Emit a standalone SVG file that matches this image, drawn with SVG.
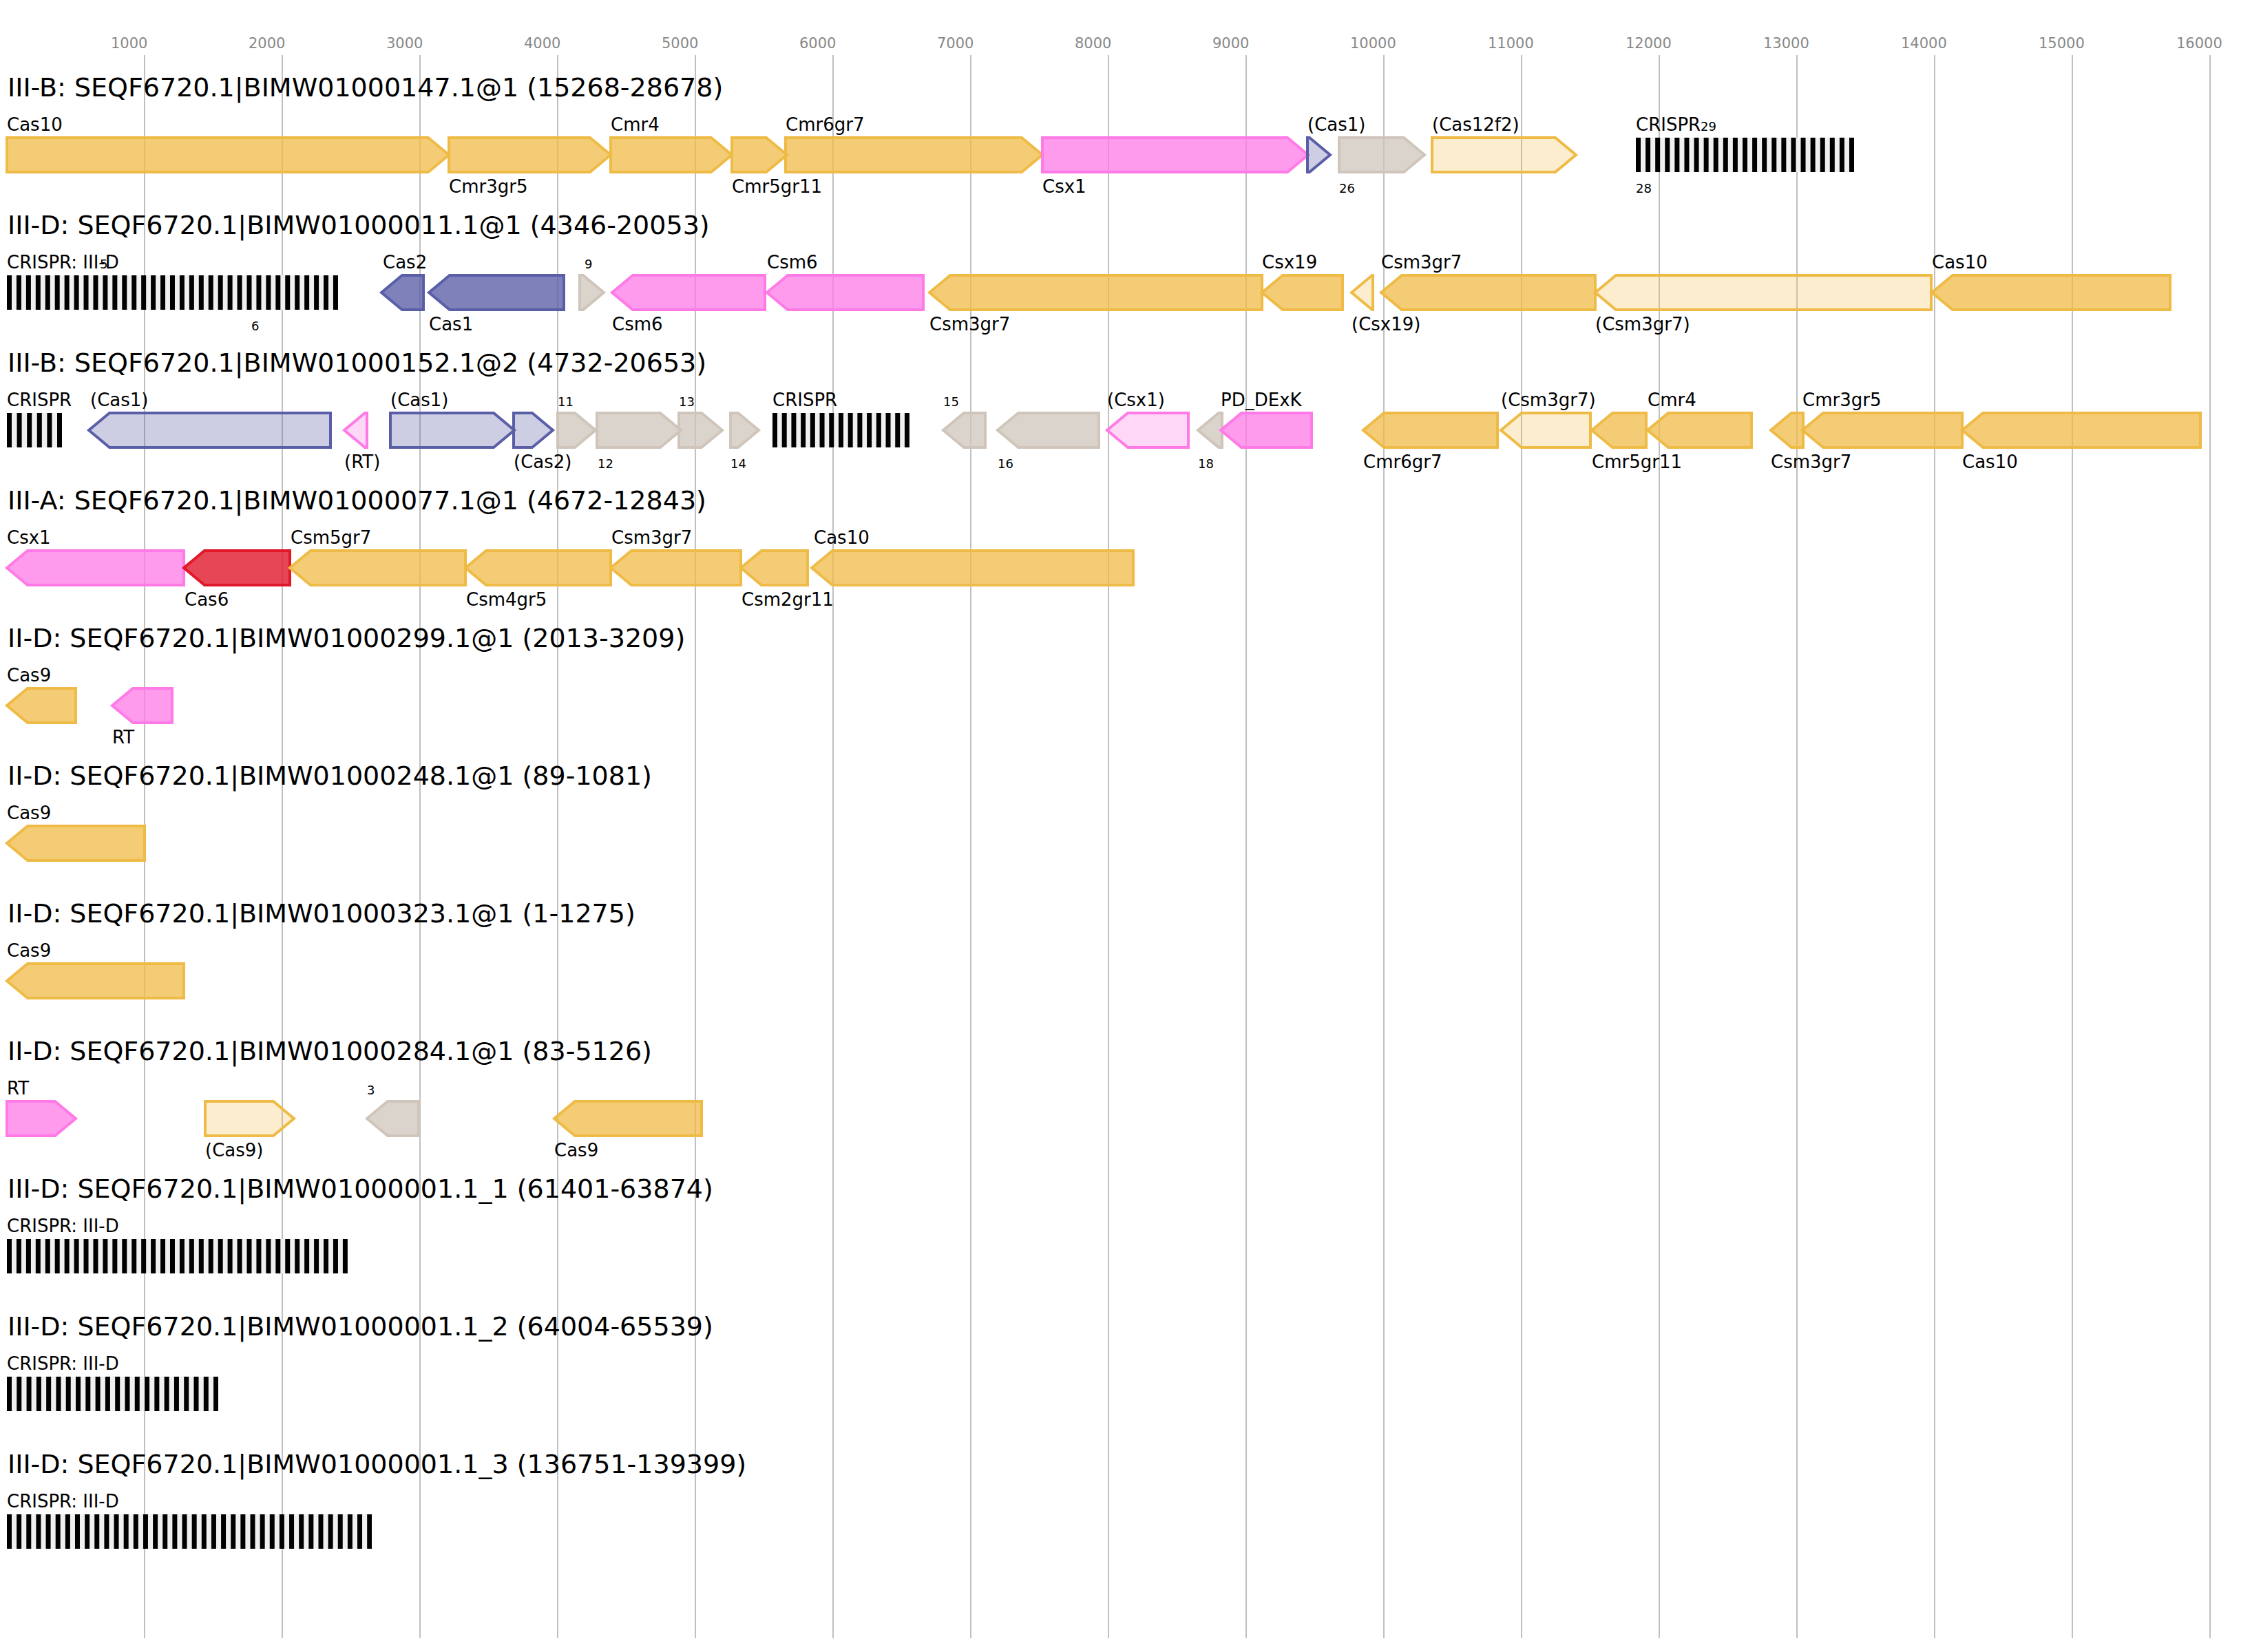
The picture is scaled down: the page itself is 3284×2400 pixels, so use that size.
<svg xmlns="http://www.w3.org/2000/svg" width="3284" height="2400" viewBox="0 0 3284 2400">
<style>
text{font-family:"DejaVu Sans","Liberation Sans",sans-serif;fill:#000}
.tick{font-size:21px;fill:#888}
.title{font-size:38px}
.lab{font-size:26px}
.num{font-size:18px}
.grid line{stroke:#c0c0c0;stroke-width:2}
polygon{stroke-width:4;stroke-linejoin:miter}
.y{fill:#EFBB47;fill-opacity:.75;stroke:#EFBB47}
.yl{fill:#EFBB47;fill-opacity:.27;stroke:#EFBB47}
.p{fill:#FF7AE6;fill-opacity:.75;stroke:#FF7AE6}
.pl{fill:#FF7AE6;fill-opacity:.3;stroke:#FF7AE6}
.b{fill:#5A5EA6;fill-opacity:.78;stroke:#5A5EA6}
.bl{fill:#5A5EA6;fill-opacity:.3;stroke:#5A5EA6}
.g{fill:#CFC5BB;fill-opacity:.75;stroke:#CFC5BB}
.r{fill:#E0182A;fill-opacity:.8;stroke:#E0182A}
.cr rect{fill:#f0f0f0}
.cr line{stroke:#000;stroke-width:50}
</style>
<g id="axis" class="grid">
<line x1="210" y1="80" x2="210" y2="2380"/><line x1="410" y1="80" x2="410" y2="2380"/><line x1="610" y1="80" x2="610" y2="2380"/><line x1="810" y1="80" x2="810" y2="2380"/><line x1="1010" y1="80" x2="1010" y2="2380"/><line x1="1210" y1="80" x2="1210" y2="2380"/><line x1="1410" y1="80" x2="1410" y2="2380"/><line x1="1610" y1="80" x2="1610" y2="2380"/><line x1="1810" y1="80" x2="1810" y2="2380"/><line x1="2010" y1="80" x2="2010" y2="2380"/><line x1="2210" y1="80" x2="2210" y2="2380"/><line x1="2410" y1="80" x2="2410" y2="2380"/><line x1="2610" y1="80" x2="2610" y2="2380"/><line x1="2810" y1="80" x2="2810" y2="2380"/><line x1="3010" y1="80" x2="3010" y2="2380"/><line x1="3210" y1="80" x2="3210" y2="2380"/>
<text class="tick" x="161" y="70">1000</text><text class="tick" x="361" y="70">2000</text><text class="tick" x="561" y="70">3000</text><text class="tick" x="761" y="70">4000</text><text class="tick" x="961" y="70">5000</text><text class="tick" x="1161" y="70">6000</text><text class="tick" x="1361" y="70">7000</text><text class="tick" x="1561" y="70">8000</text><text class="tick" x="1761" y="70">9000</text><text class="tick" x="1961" y="70">10000</text><text class="tick" x="2161" y="70">11000</text><text class="tick" x="2361" y="70">12000</text><text class="tick" x="2561" y="70">13000</text><text class="tick" x="2761" y="70">14000</text><text class="tick" x="2961" y="70">15000</text><text class="tick" x="3161" y="70">16000</text>
</g>
<g id="row1">
<text class="title" x="11" y="140">III-B: SEQF6720.1|BIMW01000147.1@1 (15268-28678)</text>
<polygon class="y" points="10,200 622,200 652,225 622,250 10,250"/><text class="lab" x="10" y="190">Cas10</text>
<polygon class="y" points="652,200 857,200 887,225 857,250 652,250"/><text class="lab" x="652" y="280">Cmr3gr5</text>
<polygon class="y" points="887,200 1033,200 1063,225 1033,250 887,250"/><text class="lab" x="887" y="190">Cmr4</text>
<polygon class="y" points="1063,200 1113,200 1143,225 1113,250 1063,250"/><text class="lab" x="1063" y="280">Cmr5gr11</text>
<polygon class="y" points="1141,200 1484,200 1514,225 1484,250 1141,250"/><text class="lab" x="1141" y="190">Cmr6gr7</text>
<polygon class="p" points="1514,200 1870,200 1900,225 1870,250 1514,250"/><text class="lab" x="1514" y="280">Csx1</text>
<polygon class="bl" points="1899,200 1902,200 1932,225 1902,250 1899,250"/><text class="lab" x="1899" y="190">(Cas1)</text>
<polygon class="g" points="1945,200 2039,200 2069,225 2039,250 1945,250"/><text class="num" x="1945" y="280">26</text>
<polygon class="yl" points="2080,200 2259,200 2289,225 2259,250 2080,250"/><text class="lab" x="2080" y="190">(Cas12f2)</text>
<g class="cr"><rect x="2376" y="200" width="317" height="50"/><line x1="2376" y1="225" x2="2693" y2="225" stroke-dasharray="7 7.09"/></g>
<text class="lab" x="2376" y="190">CRISPR</text><text class="num" x="2470" y="190">29</text><text class="num" x="2376" y="280">28</text>
</g>
<g id="row2">
<text class="title" x="11" y="340">III-D: SEQF6720.1|BIMW01000011.1@1 (4346-20053)</text>
<g class="cr"><rect x="10" y="400" width="481" height="50"/><line x1="10" y1="425" x2="491" y2="425" stroke-dasharray="7 6.94"/></g>
<text class="lab" x="10" y="390">CRISPR: III-D</text><text class="num" x="145" y="390">5</text><text class="num" x="365" y="480">6</text>
<polygon class="b" points="554,425 584,400 615,400 615,450 584,450"/><text class="lab" x="556" y="390">Cas2</text>
<polygon class="b" points="623,425 653,400 819,400 819,450 653,450"/><text class="lab" x="623" y="480">Cas1</text>
<polygon class="g" points="842,400 847,400 877,425 847,450 842,450"/><text class="num" x="849" y="390">9</text>
<polygon class="p" points="889,425 919,400 1111,400 1111,450 919,450"/><text class="lab" x="889" y="480">Csm6</text>
<polygon class="p" points="1114,425 1144,400 1341,400 1341,450 1144,450"/><text class="lab" x="1114" y="390">Csm6</text>
<polygon class="y" points="1350,425 1380,400 1833,400 1833,450 1380,450"/><text class="lab" x="1350" y="480">Csm3gr7</text>
<polygon class="y" points="1833,425 1863,400 1950,400 1950,450 1863,450"/><text class="lab" x="1833" y="390">Csx19</text>
<polygon class="yl" points="1963,425 1993,400 1994,400 1994,450 1993,450"/><text class="lab" x="1963" y="480">(Csx19)</text>
<polygon class="y" points="2006,425 2036,400 2317,400 2317,450 2036,450"/><text class="lab" x="2006" y="390">Csm3gr7</text>
<polygon class="yl" points="2317,425 2347,400 2805,400 2805,450 2347,450"/><text class="lab" x="2317" y="480">(Csm3gr7)</text>
<polygon class="y" points="2806,425 2836,400 3152,400 3152,450 2836,450"/><text class="lab" x="2806" y="390">Cas10</text>
</g>
<g id="row3">
<text class="title" x="11" y="540">III-B: SEQF6720.1|BIMW01000152.1@2 (4732-20653)</text>
<g class="cr"><rect x="10" y="600" width="80" height="50"/><line x1="10" y1="625" x2="90" y2="625" stroke-dasharray="7 7.6"/></g>
<text class="lab" x="10" y="590">CRISPR</text>
<polygon class="bl" points="129,625 159,600 480,600 480,650 159,650"/><text class="lab" x="131" y="590">(Cas1)</text>
<polygon class="pl" points="500,625 530,600 533,600 533,650 530,650"/><text class="lab" x="500" y="680">(RT)</text>
<polygon class="bl" points="567,600 717,600 747,625 717,650 567,650"/><text class="lab" x="567" y="590">(Cas1)</text>
<polygon class="bl" points="746,600 773,600 803,625 773,650 746,650"/><text class="lab" x="746" y="680">(Cas2)</text>
<polygon class="g" points="810,600 835,600 865,625 835,650 810,650"/><text class="num" x="810" y="590">11</text>
<polygon class="g" points="867,600 959,600 989,625 959,650 867,650"/><text class="num" x="868" y="680">12</text>
<polygon class="g" points="986,600 1019,600 1049,625 1019,650 986,650"/><text class="num" x="986" y="590">13</text>
<polygon class="g" points="1061,600 1072,600 1102,625 1072,650 1061,650"/><text class="num" x="1061" y="680">14</text>
<g class="cr"><rect x="1122" y="600" width="199" height="50"/><line x1="1122" y1="625" x2="1321" y2="625" stroke-dasharray="7 6.71"/></g>
<text class="lab" x="1122" y="590">CRISPR</text>
<polygon class="g" points="1370,625 1400,600 1431,600 1431,650 1400,650"/><text class="num" x="1370" y="590">15</text>
<polygon class="g" points="1449,625 1479,600 1596,600 1596,650 1479,650"/><text class="num" x="1449" y="680">16</text>
<polygon class="pl" points="1608,625 1638,600 1726,600 1726,650 1638,650"/><text class="lab" x="1608" y="590">(Csx1)</text>
<polygon class="g" points="1740,625 1770,600 1775,600 1775,650 1770,650"/><text class="num" x="1740" y="680">18</text>
<polygon class="p" points="1773,625 1803,600 1905,600 1905,650 1803,650"/><text class="lab" x="1773" y="590">PD_DExK</text>
<polygon class="y" points="1980,625 2010,600 2175,600 2175,650 2010,650"/><text class="lab" x="1980" y="680">Cmr6gr7</text>
<polygon class="yl" points="2180,625 2210,600 2310,600 2310,650 2210,650"/><text class="lab" x="2180" y="590">(Csm3gr7)</text>
<polygon class="y" points="2312,625 2342,600 2391,600 2391,650 2342,650"/><text class="lab" x="2312" y="680">Cmr5gr11</text>
<polygon class="y" points="2393,625 2423,600 2544,600 2544,650 2423,650"/><text class="lab" x="2393" y="590">Cmr4</text>
<polygon class="y" points="2572,625 2602,600 2619,600 2619,650 2602,650"/><text class="lab" x="2572" y="680">Csm3gr7</text>
<polygon class="y" points="2618,625 2648,600 2850,600 2850,650 2648,650"/><text class="lab" x="2618" y="590">Cmr3gr5</text>
<polygon class="y" points="2850,625 2880,600 3196,600 3196,650 2880,650"/><text class="lab" x="2850" y="680">Cas10</text>
</g>
<g id="row4">
<text class="title" x="11" y="740">III-A: SEQF6720.1|BIMW01000077.1@1 (4672-12843)</text>
<polygon class="p" points="10,825 40,800 267,800 267,850 40,850"/><text class="lab" x="10" y="790">Csx1</text>
<polygon class="r" points="267,825 297,800 421,800 421,850 297,850"/><text class="lab" x="268" y="880">Cas6</text>
<polygon class="y" points="421,825 451,800 676,800 676,850 451,850"/><text class="lab" x="422" y="790">Csm5gr7</text>
<polygon class="y" points="676,825 706,800 887,800 887,850 706,850"/><text class="lab" x="677" y="880">Csm4gr5</text>
<polygon class="y" points="887,825 917,800 1076,800 1076,850 917,850"/><text class="lab" x="888" y="790">Csm3gr7</text>
<polygon class="y" points="1076,825 1106,800 1173,800 1173,850 1106,850"/><text class="lab" x="1077" y="880">Csm2gr11</text>
<polygon class="y" points="1179,825 1209,800 1646,800 1646,850 1209,850"/><text class="lab" x="1182" y="790">Cas10</text>
</g>
<g id="row5">
<text class="title" x="11" y="940">II-D: SEQF6720.1|BIMW01000299.1@1 (2013-3209)</text>
<polygon class="y" points="10,1025 40,1000 110,1000 110,1050 40,1050"/><text class="lab" x="10" y="990">Cas9</text>
<polygon class="p" points="163,1025 193,1000 250,1000 250,1050 193,1050"/><text class="lab" x="163" y="1080">RT</text>
</g>
<g id="row6">
<text class="title" x="11" y="1140">II-D: SEQF6720.1|BIMW01000248.1@1 (89-1081)</text>
<polygon class="y" points="10,1225 40,1200 210,1200 210,1250 40,1250"/><text class="lab" x="10" y="1190">Cas9</text>
</g>
<g id="row7">
<text class="title" x="11" y="1340">II-D: SEQF6720.1|BIMW01000323.1@1 (1-1275)</text>
<polygon class="y" points="10,1425 40,1400 267,1400 267,1450 40,1450"/><text class="lab" x="10" y="1390">Cas9</text>
</g>
<g id="row8">
<text class="title" x="11" y="1540">II-D: SEQF6720.1|BIMW01000284.1@1 (83-5126)</text>
<polygon class="p" points="10,1600 80,1600 110,1625 80,1650 10,1650"/><text class="lab" x="10" y="1590">RT</text>
<polygon class="yl" points="298,1600 397,1600 427,1625 397,1650 298,1650"/><text class="lab" x="298" y="1680">(Cas9)</text>
<polygon class="g" points="533,1625 563,1600 608,1600 608,1650 563,1650"/><text class="num" x="533" y="1590">3</text>
<polygon class="y" points="805,1625 835,1600 1019,1600 1019,1650 835,1650"/><text class="lab" x="805" y="1680">Cas9</text>
</g>
<g id="row9">
<text class="title" x="11" y="1740">III-D: SEQF6720.1|BIMW01000001.1_1 (61401-63874)</text>
<g class="cr"><rect x="10" y="1800" width="495" height="50"/><line x1="10" y1="1825" x2="505" y2="1825" stroke-dasharray="7 6.94"/></g>
<text class="lab" x="10" y="1790">CRISPR: III-D</text>
</g>
<g id="row10">
<text class="title" x="11" y="1940">III-D: SEQF6720.1|BIMW01000001.1_2 (64004-65539)</text>
<g class="cr"><rect x="10" y="2000" width="307" height="50"/><line x1="10" y1="2025" x2="317" y2="2025" stroke-dasharray="7 7.29"/></g>
<text class="lab" x="10" y="1990">CRISPR: III-D</text>
</g>
<g id="row11">
<text class="title" x="11" y="2140">III-D: SEQF6720.1|BIMW01000001.1_3 (136751-139399)</text>
<g class="cr"><rect x="10" y="2200" width="530" height="50"/><line x1="10" y1="2225" x2="540" y2="2225" stroke-dasharray="7 7.14"/></g>
<text class="lab" x="10" y="2190">CRISPR: III-D</text>
</g>
</svg>
